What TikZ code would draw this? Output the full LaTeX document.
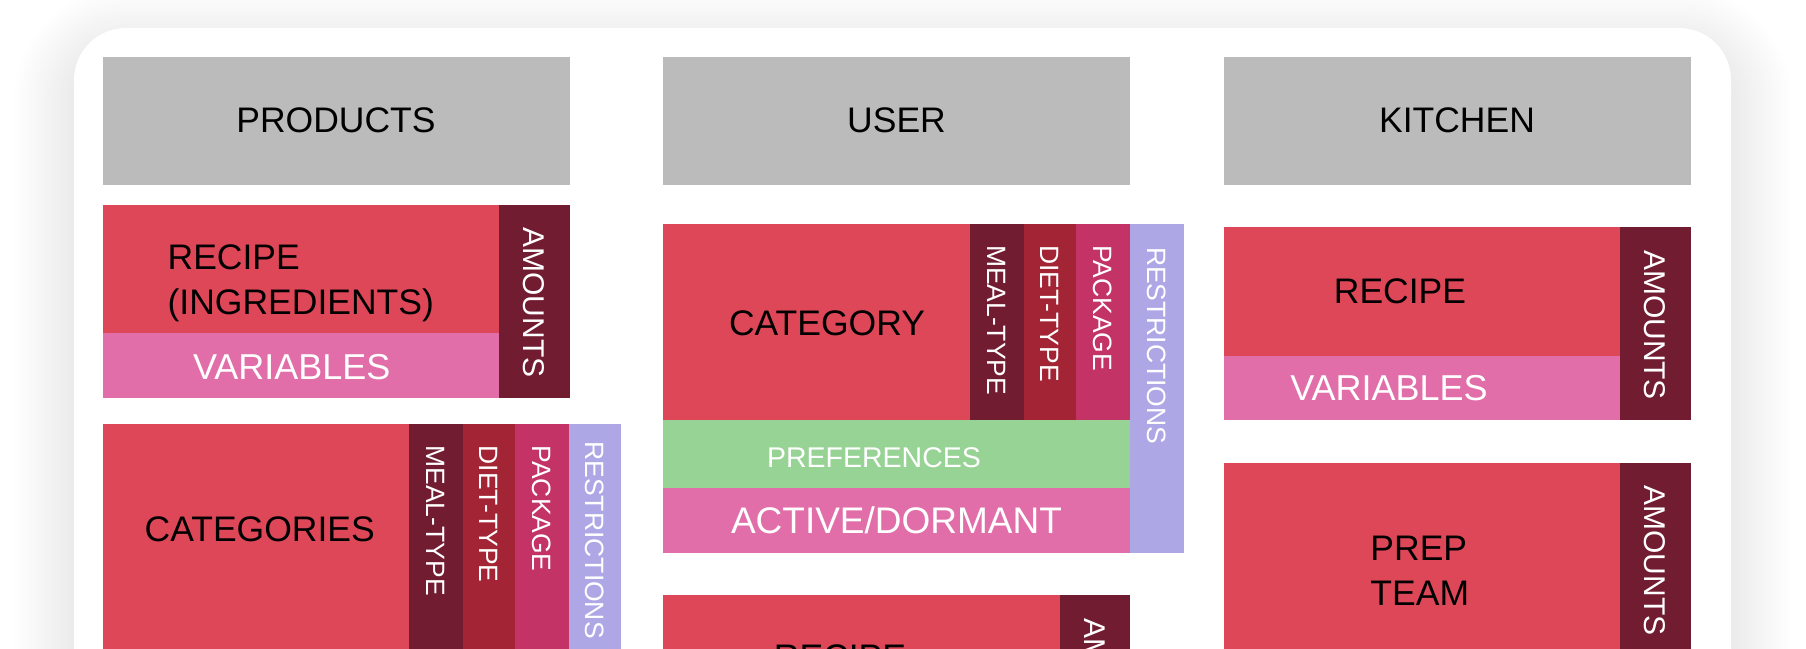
\documentclass[tikz,border=0pt]{standalone}
\usepackage{fontspec}
\setmainfont{Liberation Sans}
\usetikzlibrary{positioning}

\definecolor{headgray}{HTML}{BBBBBB}
\definecolor{tilered}{HTML}{DE4757}
\definecolor{maroon}{HTML}{721C32}
\definecolor{dietred}{HTML}{A32434}
\definecolor{packpink}{HTML}{C33366}
\definecolor{lavender}{HTML}{AEA7E6}
\definecolor{varpink}{HTML}{E16EA9}
\definecolor{prefgreen}{HTML}{98D396}

\begin{document}
\begin{tikzpicture}[x=1pt, y=-1pt, inner sep=0pt, outer sep=0pt]
        \tikzset{
          block/.style={rectangle, anchor=north west, inner sep=0pt, outer sep=0pt},
          header/.style={block, fill=headgray, minimum width=467pt, minimum height=128pt,
                         font=\fontsize{35.5}{45}\selectfont},
          main/.style={block, fill=tilered},
          txt/.style={font=\fontsize{35.5}{45}\selectfont, align=left},
          wtxt/.style={txt, text=white, font=\fontsize{36}{45}\selectfont},
          vtxt/.style={rotate=-90, anchor=west, text=white, font=\fontsize{26.5}{30}\selectfont},
          amt/.style={vtxt, font=\fontsize{30}{36}\selectfont}
        }
        \useasboundingbox (0,0) rectangle (1806,648);
        \clip (0,0) rectangle (1806,648);
        \fill[white] (0,0) rectangle (1806,648);

        % card with soft shadow
        \foreach \s [evaluate=\s as \r using 52+3*\s] in {1,...,20}
          \fill[black, opacity=0.0055, rounded corners=\r pt] (74-3*\s, 48-3*\s) rectangle (1731+3*\s, 760);
        \fill[white, rounded corners=52pt] (74,28) rectangle (1731,760);

        % products column
        \node[header] (products) at (102.5,56.5) {PRODUCTS};
        \node[main, minimum width=396.5pt, minimum height=128.5pt] (precipe) at (102.5,204.5) {};
        \node[block, fill=varpink, minimum width=396.5pt, minimum height=64.5pt] (pvars) at (precipe.south west) {};
        \node[block, fill=maroon, minimum width=70.5pt, minimum height=193pt] (pamounts) at (precipe.north east) {};
        \node[main, minimum width=306.5pt, minimum height=240pt] (pcats) at (102.5,423.5) {};
        \node[block, fill=maroon, minimum width=54pt, minimum height=240pt] (pmeal) at (pcats.north east) {};
        \node[block, fill=dietred, minimum width=52pt, minimum height=240pt] (pdiet) at (pmeal.north east) {};
        \node[block, fill=packpink, minimum width=54pt, minimum height=240pt] (ppack) at (pdiet.north east) {};
        \node[block, fill=lavender, minimum width=52pt, minimum height=240pt] (prestr) at (ppack.north east) {};

        \node[txt] (t-precipe) at ([yshift=-14.5pt]precipe.center) {RECIPE\\(INGREDIENTS)};
        \node[wtxt] (t-pvars) at ([xshift=-9pt,yshift=-2pt]pvars.center) {VARIABLES};
        \node[amt] (t-pamounts) at ([yshift=-23pt]pamounts.north) {AMOUNTS};
        \node[txt] (t-pcats) at ([xshift=4pt,yshift=14.5pt]pcats.center) {CATEGORIES};
        \node[vtxt] (t-pmeal) at ([yshift=-22pt]pmeal.north) {MEAL-TYPE};
        \node[vtxt] (t-pdiet) at ([yshift=-22pt]pdiet.north) {DIET-TYPE};
        \node[vtxt] (t-ppack) at ([yshift=-22pt]ppack.north) {PACKAGE};
        \node[vtxt] (t-prestr) at ([yshift=-18pt]prestr.north) {RESTRICTIONS};

        % user column
        \node[header] (user) at (663,56.5) {USER};
        \node[main, minimum width=307pt, minimum height=196pt] (ucat) at (663,224) {};
        \node[block, fill=maroon, minimum width=54pt, minimum height=196pt] (umeal) at (ucat.north east) {};
        \node[block, fill=dietred, minimum width=52pt, minimum height=196pt] (udiet) at (umeal.north east) {};
        \node[block, fill=packpink, minimum width=54pt, minimum height=196pt] (upack) at (udiet.north east) {};
        \node[block, fill=lavender, minimum width=54pt, minimum height=329pt] (urestr) at (upack.north east) {};
        \node[block, fill=prefgreen, minimum width=467pt, minimum height=68pt] (uprefs) at (ucat.south west) {};
        \node[block, fill=varpink, minimum width=467pt, minimum height=64.5pt] (uactive) at (uprefs.south west) {};
        \node[main, minimum width=397pt, minimum height=120pt] (urecipe) at (663,594.5) {};
        \node[block, fill=maroon, minimum width=70pt, minimum height=120pt] (uamounts) at (urecipe.north east) {};

        \node[txt] (t-ucat) at ([xshift=10.5pt,yshift=-1.5pt]ucat.center) {CATEGORY};
        \node[vtxt] (t-umeal) at ([yshift=-21pt]umeal.north) {MEAL-TYPE};
        \node[vtxt] (t-udiet) at ([yshift=-21pt]udiet.north) {DIET-TYPE};
        \node[vtxt] (t-upack) at ([yshift=-21pt]upack.north) {PACKAGE};
        \node[vtxt] (t-urestr) at ([yshift=-23pt]urestr.north) {RESTRICTIONS};
        \node[wtxt, font=\fontsize{28.5}{34}\selectfont] (t-uprefs) at ([xshift=-22.5pt,yshift=-3.5pt]uprefs.center) {PREFERENCES};
        \node[wtxt, font=\fontsize{37}{42}\selectfont] (t-uactive) at (uactive.center) {ACTIVE/DORMANT};
        \node[txt] (t-urecipe) at ([xshift=-21.5pt,yshift=-2.5pt]urecipe.center) {RECIPE};
        \node[amt] (t-uamounts) at ([yshift=-24pt]uamounts.north) {AMOUNTS};

        % kitchen column
        \node[header] (kitchen) at (1223.5,56.5) {KITCHEN};
        \node[main, minimum width=396.5pt, minimum height=129pt] (krecipe) at (1223.5,227) {};
        \node[block, fill=varpink, minimum width=396.5pt, minimum height=64pt] (kvars) at (krecipe.south west) {};
        \node[block, fill=maroon, minimum width=70.5pt, minimum height=193pt] (kamounts) at (krecipe.north east) {};
        \node[main, minimum width=396.5pt, minimum height=210pt] (kprep) at (1223.5,462.5) {};
        \node[block, fill=maroon, minimum width=70.5pt, minimum height=210pt] (kamounts2) at (kprep.north east) {};

        \node[txt] (t-krecipe) at ([xshift=-21.75pt]krecipe.center) {RECIPE};
        \node[wtxt] (t-kvars) at ([xshift=-32.75pt]kvars.center) {VARIABLES};
        \node[amt] (t-kamounts) at ([yshift=-23pt]kamounts.north) {AMOUNTS};
        \node[txt] (t-kprep) at ([xshift=-2pt,yshift=-3pt]kprep.center) {PREP\\TEAM};
        \node[amt] (t-kamounts2) at ([yshift=-23pt]kamounts2.north) {AMOUNTS};
\end{tikzpicture}
\end{document}
